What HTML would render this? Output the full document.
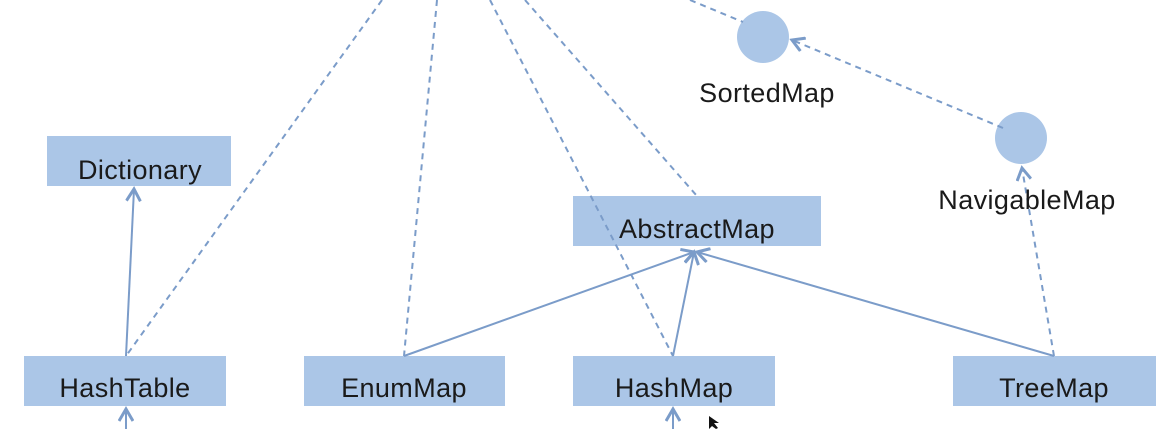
<!DOCTYPE html>
<html><head><style>
body{margin:0;background:#fff;}
svg{display:block;}
text{font-family:"Liberation Sans",sans-serif;font-size:27px;letter-spacing:0.4px;fill:#1a1a1a;}
</style></head><body>
<svg width="1170" height="429" viewBox="0 0 1170 429">
<defs>
<marker id="a" markerWidth="16" markerHeight="16" refX="13" refY="8" orient="auto" markerUnits="userSpaceOnUse">
<path d="M1,1 L13,8 L1,15" fill="none" stroke="#7b9cc9" stroke-width="3"/>
</marker>
</defs>
<g fill="#abc6e7">
<rect x="47" y="136" width="184" height="50"/>
<rect x="24" y="356" width="202" height="50"/>
<rect x="304" y="356" width="201" height="50"/>
<rect x="573" y="356" width="202" height="50"/>
<rect x="953" y="356" width="203" height="50"/>
<rect x="573" y="196" width="248" height="50"/>
<circle cx="763" cy="37" r="26"/>
<circle cx="1021" cy="138" r="26"/>
</g>
<g stroke="#7b9cc9" stroke-width="2" fill="none">
<g stroke-dasharray="6,5">
<line x1="382" y1="0" x2="126" y2="356"/>
<line x1="437" y1="0" x2="404" y2="356"/>
<line x1="490" y1="0" x2="673" y2="356"/>
<line x1="525" y1="0" x2="697" y2="196"/>
<line x1="690" y1="0" x2="743" y2="22"/>
<line x1="1003" y1="128" x2="792" y2="40" marker-end="url(#a)"/>
<line x1="1054" y1="356" x2="1022" y2="168" marker-end="url(#a)"/>
</g>
<line x1="126" y1="356" x2="134" y2="189" marker-end="url(#a)"/>
<line x1="404" y1="356" x2="694" y2="252" marker-end="url(#a)"/>
<line x1="673" y1="356" x2="694" y2="252" marker-end="url(#a)"/>
<line x1="1054" y1="356" x2="697" y2="252" marker-end="url(#a)"/>
<line x1="126" y1="440" x2="126" y2="409" marker-end="url(#a)"/>
<line x1="673" y1="440" x2="673" y2="409" marker-end="url(#a)"/>
</g>
<g text-anchor="middle">
<text x="140" y="179">Dictionary</text>
<text x="125" y="397">HashTable</text>
<text x="404" y="397">EnumMap</text>
<text x="674" y="397">HashMap</text>
<text x="1054" y="397">TreeMap</text>
<text x="697" y="238">AbstractMap</text>
<text x="767" y="102">SortedMap</text>
<text x="1027" y="209">NavigableMap</text>
</g>
<path d="M709,416 L709,429 L712,426 L716,429 L718,428 L714,423 L719,423 Z" fill="#111"/>
</svg>
</body></html>
